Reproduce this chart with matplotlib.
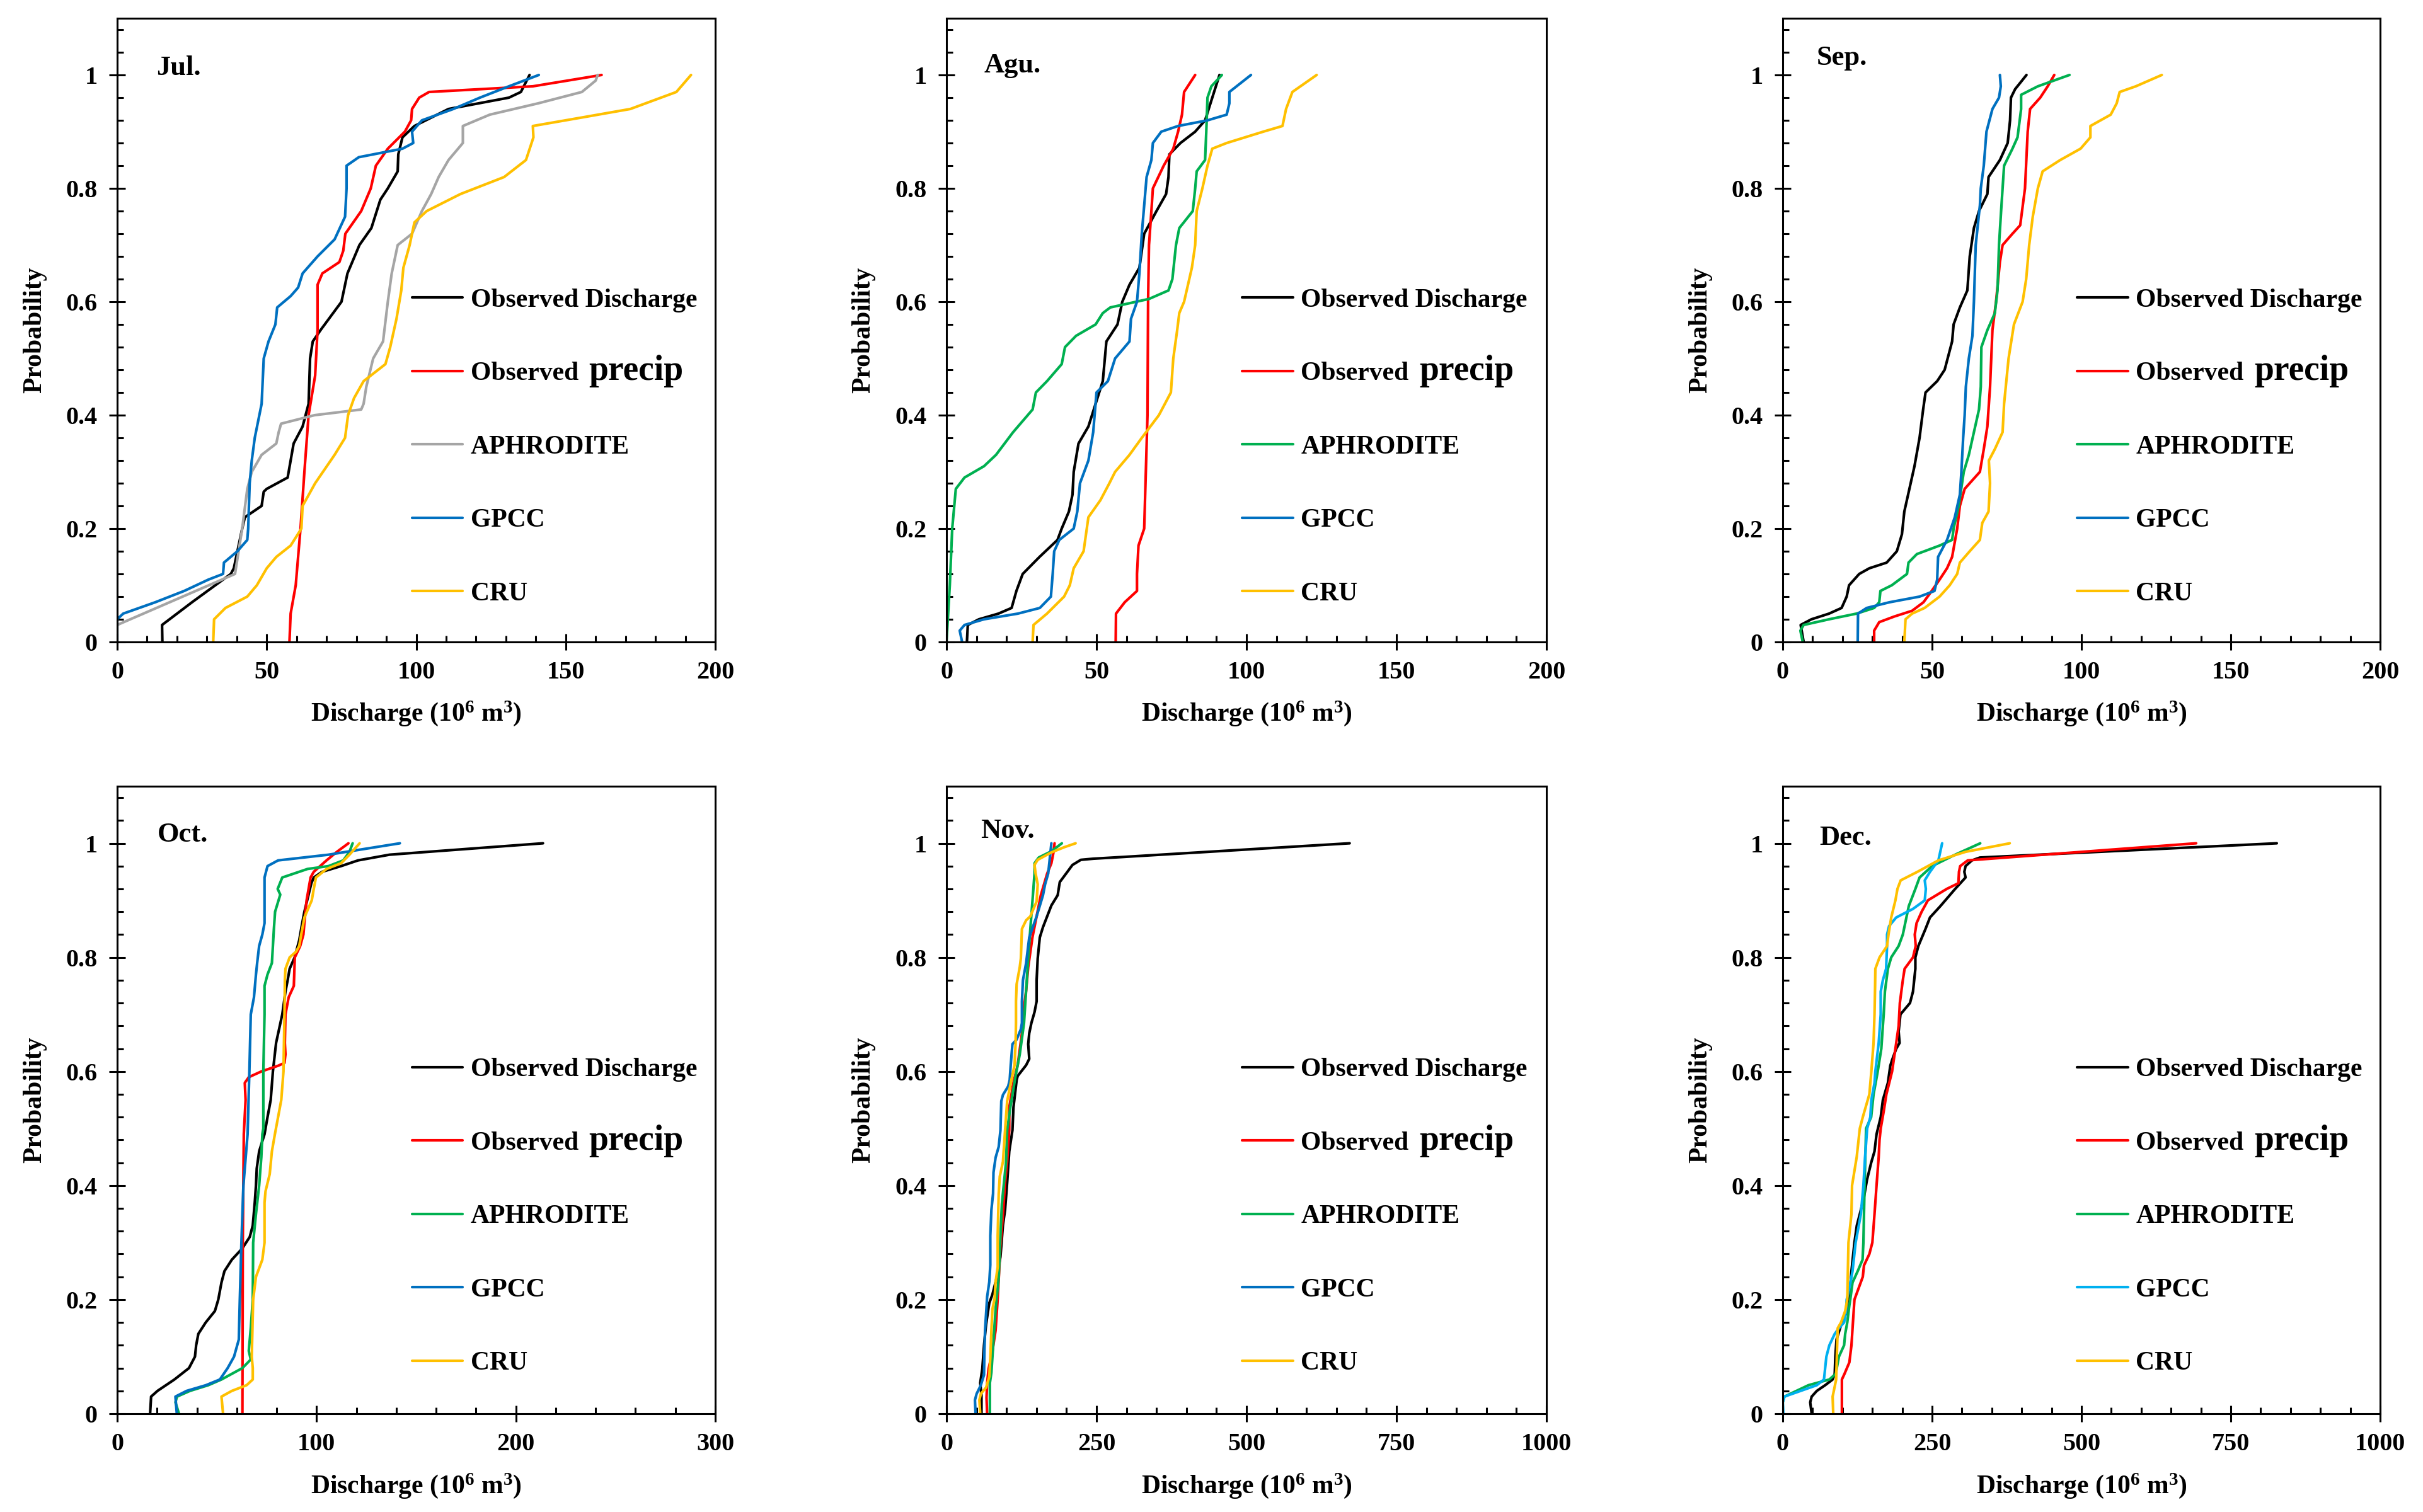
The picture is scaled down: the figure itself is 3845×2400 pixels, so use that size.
import matplotlib

matplotlib.use("Agg")
import matplotlib.pyplot as plt
import numpy as np
from matplotlib.ticker import FuncFormatter, MultipleLocator

plt.rcParams["font.family"] = ["Liberation Serif", "DejaVu Serif"]
plt.rcParams["font.weight"] = "bold"
plt.rcParams["mathtext.default"] = "regular"

# ---- data: (discharge in 10^6 m3, cumulative probability) ----
jul_obs = [(15.1, 0), (15, 0.03), (25, 0.07), (38, 0.12), (39, 0.13), (41.8, 0.2), (42.7, 0.22),
           (48.3, 0.24), (49, 0.265), (50, 0.27), (57, 0.29), (59, 0.35), (62, 0.38), (64, 0.42),
           (64.5, 0.5), (65.4, 0.53), (68, 0.55), (75, 0.6), (77, 0.65), (81, 0.7), (85, 0.73),
           (88, 0.78), (90.5, 0.8), (93.8, 0.83), (94, 0.86), (95.4, 0.89), (99.4, 0.91),
           (110.8, 0.94), (131, 0.96), (135, 0.97), (137.9, 1.0)]
jul_pre = [(57.6, 0), (58, 0.05), (59.7, 0.1), (61.3, 0.2), (62.6, 0.3), (64, 0.4), (66.2, 0.47),
           (67, 0.55), (67, 0.63), (68.6, 0.65), (74.3, 0.67), (75.6, 0.69), (76.3, 0.72),
           (81.6, 0.76), (84.8, 0.8), (86.5, 0.84), (90.5, 0.87), (96.2, 0.9), (98.3, 0.92),
           (98.6, 0.94), (101, 0.96), (104.3, 0.97), (139, 0.98), (162, 1.0)]
jul_aph = [(0, 0.03), (39.4, 0.12), (41.8, 0.2), (43.5, 0.27), (45, 0.3), (48.3, 0.33),
           (53.2, 0.35), (54, 0.37), (54.8, 0.385), (66, 0.4), (81.6, 0.41), (82.4, 0.42),
           (83.3, 0.45), (85.6, 0.5), (88.9, 0.53), (90.5, 0.6), (91.8, 0.65), (93.8, 0.7),
           (98.6, 0.72), (101.9, 0.76), (105, 0.79), (107.5, 0.82), (110.8, 0.85), (115.6, 0.88),
           (115.6, 0.91), (124.6, 0.93), (140.8, 0.95), (155.4, 0.97), (160, 0.99), (160.7, 1.0)]
jul_gpc = [(0, 0), (0, 0.04), (2, 0.05), (12.7, 0.07), (22.4, 0.09), (30.5, 0.11), (35.4, 0.12),
           (35.7, 0.14), (40.2, 0.16), (43.5, 0.18), (43.8, 0.2), (44.3, 0.28), (45, 0.32),
           (46, 0.36), (48.3, 0.42), (49, 0.5), (50.6, 0.53), (52.9, 0.56), (53.5, 0.59),
           (58, 0.61), (60.5, 0.625), (62, 0.65), (67, 0.68), (72.7, 0.71), (76.2, 0.75),
           (76.7, 0.8), (76.7, 0.84), (80.8, 0.855), (95.4, 0.87), (99, 0.88), (98.6, 0.9),
           (101.9, 0.92), (112.4, 0.94), (121.3, 0.96), (131, 0.98), (141, 1.0)]
jul_cru = [(32.1, 0), (32.4, 0.04), (36.2, 0.06), (43.5, 0.08), (46.7, 0.1), (50, 0.13),
           (53.2, 0.15), (58, 0.17), (61.6, 0.2), (62, 0.24), (66.2, 0.28), (72.7, 0.33),
           (76.2, 0.36), (77.2, 0.4), (79.2, 0.43), (82.4, 0.46), (89.7, 0.49), (91.3, 0.52),
           (93.4, 0.57), (95, 0.62), (95.7, 0.66), (97.8, 0.7), (99.4, 0.74), (103.5, 0.76),
           (114.8, 0.79), (129.4, 0.82), (136.7, 0.85), (139.2, 0.89), (139, 0.91),
           (155.4, 0.925), (171.6, 0.94), (187, 0.97), (191.9, 1.0)]

agu_obs = [(6.8, 0), (7.1, 0.03), (10.8, 0.04), (17.3, 0.05), (21.7, 0.06), (23.3, 0.09),
           (25.4, 0.12), (31, 0.15), (37, 0.18), (38.4, 0.2), (40.8, 0.23), (42, 0.26),
           (42.4, 0.3), (44, 0.35), (47.3, 0.38), (49.7, 0.42), (52.1, 0.46), (53.3, 0.53),
           (57, 0.56), (58.6, 0.6), (61, 0.63), (64.3, 0.66), (65.9, 0.72), (70, 0.76),
           (73.2, 0.79), (74, 0.82), (74.3, 0.86), (78, 0.88), (82.9, 0.9), (86.2, 0.92),
           (88.6, 0.96), (91, 1.0)]
agu_pre = [(56.4, 0), (56.5, 0.05), (59.4, 0.07), (63.5, 0.09), (63.5, 0.12), (64, 0.17),
           (65.9, 0.2), (67, 0.4), (67.2, 0.6), (67.5, 0.7), (68.3, 0.76), (68.8, 0.8),
           (72.4, 0.84), (75.6, 0.87), (77.2, 0.9), (78.5, 0.93), (79.2, 0.97), (82.9, 1.0)]
agu_aph = [(0, 0), (1.1, 0.1), (1.9, 0.2), (3.1, 0.27), (6, 0.29), (12.5, 0.31), (16.5, 0.33),
           (22.2, 0.37), (28.7, 0.41), (29.8, 0.44), (33.5, 0.46), (38.4, 0.49), (39.5, 0.52),
           (43.2, 0.54), (49.7, 0.56), (52.1, 0.58), (54.6, 0.59), (67.5, 0.605), (74, 0.62),
           (75.3, 0.64), (76.5, 0.7), (77.6, 0.73), (82.1, 0.76), (82.9, 0.8), (83.4, 0.83),
           (86.2, 0.85), (86.6, 0.9), (87, 0.96), (88.3, 0.98), (91.8, 1.0)]
agu_gpc = [(5.2, 0), (4.4, 0.02), (6, 0.03), (12.5, 0.04), (23.8, 0.05), (31.1, 0.06),
           (34.8, 0.08), (35.4, 0.12), (35.9, 0.16), (37.6, 0.18), (42.4, 0.2), (43.6, 0.23),
           (44.5, 0.28), (47.3, 0.32), (48.9, 0.37), (50, 0.44), (53.8, 0.46), (56.2, 0.5),
           (61, 0.53), (61.5, 0.57), (63.5, 0.6), (64.3, 0.65), (65.1, 0.72), (66.7, 0.82),
           (68.3, 0.85), (68.8, 0.88), (71.6, 0.9), (77.2, 0.91), (87, 0.92), (93.4, 0.93),
           (94.3, 0.95), (94.3, 0.97), (101.5, 1.0)]
agu_cru = [(28.7, 0), (29, 0.03), (33.5, 0.05), (39.2, 0.08), (41.1, 0.1), (42.4, 0.13),
           (45.7, 0.16), (46.5, 0.19), (47.3, 0.22), (51.3, 0.25), (54.3, 0.28), (56.2, 0.3),
           (61, 0.33), (65.1, 0.36), (70.8, 0.4), (74.8, 0.44), (75.6, 0.5), (76.9, 0.55),
           (77.6, 0.58), (79.2, 0.6), (80.5, 0.63), (81.8, 0.66), (82.9, 0.7), (83.4, 0.76),
           (85.3, 0.8), (87, 0.84), (88.6, 0.87), (93.4, 0.88), (105.6, 0.9), (112, 0.91),
           (113.2, 0.94), (115.3, 0.97), (123.4, 1.0)]

sep_obs = [(7, 0), (6, 0.03), (9.6, 0.04), (15.5, 0.05), (19.7, 0.06), (21.4, 0.08), (22.2, 0.1),
           (25.6, 0.12), (29, 0.13), (34.8, 0.14), (38.2, 0.16), (39.9, 0.19), (40.7, 0.23),
           (42.4, 0.27), (44.1, 0.31), (45.8, 0.36), (47, 0.41), (47.8, 0.44), (51.7, 0.46),
           (54.2, 0.48), (56.7, 0.53), (57.2, 0.56), (59.3, 0.59), (61.8, 0.62), (62.6, 0.68),
           (64, 0.73), (65.7, 0.76), (68.5, 0.79), (68.9, 0.82), (72.7, 0.85), (75.3, 0.88),
           (76.1, 0.92), (76.4, 0.96), (77.8, 0.975), (81.6, 1.0)]
sep_pre = [(30.6, 0), (30.6, 0.02), (32.3, 0.035), (37.4, 0.045), (43.3, 0.055), (47.1, 0.07),
           (49.2, 0.085), (52.5, 0.11), (55, 0.13), (56.7, 0.15), (58.4, 0.2), (59.3, 0.24),
           (60.9, 0.27), (66, 0.3), (67.3, 0.34), (68.5, 0.38), (69.4, 0.45), (70.2, 0.55),
           (71.4, 0.6), (72.7, 0.67), (73.6, 0.7), (76.9, 0.72), (79.5, 0.735), (81.1, 0.8),
           (82, 0.9), (82.8, 0.94), (86.2, 0.96), (88.7, 0.98), (90.9, 1.0)]
sep_aph = [(6.7, 0), (5.9, 0.02), (7, 0.03), (15.5, 0.04), (24.7, 0.05), (30.6, 0.06),
           (32.3, 0.07), (32.7, 0.09), (36.5, 0.1), (41.6, 0.12), (42.1, 0.14), (44.9, 0.155),
           (52.5, 0.17), (56.7, 0.18), (57.2, 0.2), (58.9, 0.24), (60.6, 0.3), (62.3, 0.33),
           (64, 0.37), (65.7, 0.41), (66.3, 0.45), (66.5, 0.52), (68.5, 0.55), (71, 0.58),
           (71.9, 0.62), (72.4, 0.7), (73.1, 0.76), (74.1, 0.84), (76.9, 0.87), (78.6, 0.89),
           (79.8, 0.94), (79.8, 0.965), (85.4, 0.98), (96, 1.0)]
sep_gpc = [(25.1, 0), (25.2, 0.05), (28.1, 0.06), (35.7, 0.07), (45.8, 0.08), (50.8, 0.09),
           (51.7, 0.11), (52, 0.15), (55, 0.18), (57.6, 0.22), (59.3, 0.26), (59.8, 0.3),
           (60.4, 0.36), (60.9, 0.4), (61.3, 0.45), (62.3, 0.5), (63.5, 0.54), (64, 0.6),
           (64.6, 0.7), (66, 0.77), (66.3, 0.8), (67.3, 0.84), (68.2, 0.9), (70.2, 0.94),
           (72.4, 0.96), (73, 0.98), (72.7, 1.0)]
sep_cru = [(40.7, 0), (41.1, 0.04), (43.3, 0.05), (47.5, 0.06), (52.5, 0.08), (55.9, 0.1),
           (58.4, 0.12), (59.3, 0.14), (62.6, 0.16), (66, 0.18), (66.8, 0.21), (68.9, 0.23),
           (69.4, 0.28), (69, 0.32), (71, 0.34), (73.6, 0.37), (74.1, 0.42), (75.6, 0.5),
           (77.4, 0.56), (80.3, 0.6), (81.5, 0.64), (82.5, 0.7), (83.7, 0.75), (85.4, 0.8),
           (87, 0.83), (92.9, 0.85), (99.7, 0.87), (103, 0.89), (103, 0.91), (109.8, 0.93),
           (111.8, 0.95), (112.8, 0.97), (118.2, 0.98), (126.9, 1.0)]

oct_obs = [(16.5, 0), (17, 0.03), (20.2, 0.04), (28.7, 0.06), (36, 0.08), (39, 0.1), (39.6, 0.12),
           (40.7, 0.14), (44.4, 0.16), (49, 0.18), (50.7, 0.2), (52.3, 0.23), (53.8, 0.25),
           (57.5, 0.27), (62.8, 0.29), (66.5, 0.31), (68, 0.33), (69, 0.37), (69.6, 0.4),
           (70, 0.43), (71.2, 0.46), (73.9, 0.49), (75.4, 0.52), (77, 0.55), (78.1, 0.6),
           (79.7, 0.65), (82.8, 0.7), (84.4, 0.74), (85.5, 0.76), (86.5, 0.78), (89, 0.8),
           (91.3, 0.83), (92.8, 0.86), (93.9, 0.88), (96, 0.91), (97.4, 0.93), (98.6, 0.94),
           (102.8, 0.95), (112.3, 0.96), (120.8, 0.97), (136.6, 0.98), (213.6, 1.0)]
oct_pre = [(62.8, 0), (63, 0.3), (63.5, 0.49), (64.4, 0.55), (64, 0.58), (66, 0.59), (72.3, 0.6),
           (80.7, 0.61), (83.9, 0.615), (84.4, 0.63), (84.1, 0.65), (84.4, 0.7), (86, 0.73),
           (88.6, 0.75), (89.1, 0.8), (91.8, 0.82), (93.4, 0.84), (93.9, 0.86), (95, 0.9),
           (96.5, 0.93), (97, 0.94), (98.6, 0.95), (105, 0.97), (110.2, 0.985), (116, 1.0)]
oct_aph = [(31, 0), (29.2, 0.02), (30, 0.03), (36.5, 0.04), (45.7, 0.05), (52.3, 0.06),
           (62.8, 0.08), (67, 0.095), (66, 0.11), (67, 0.15), (68, 0.2), (68.2, 0.3),
           (69.6, 0.35), (71.2, 0.4), (72.3, 0.45), (72.8, 0.49), (73.3, 0.5), (73.3, 0.6),
           (73.9, 0.7), (73.9, 0.75), (75.4, 0.77), (77.6, 0.79), (78.1, 0.82), (78.6, 0.85),
           (79.2, 0.88), (81.8, 0.91), (80.5, 0.92), (82.8, 0.94), (95.5, 0.955), (106, 0.96),
           (113.4, 0.97), (116.5, 0.985), (118.1, 1.0)]
oct_gpc = [(29.9, 0), (29.2, 0.03), (34.8, 0.04), (44.5, 0.05), (51.5, 0.06), (55.4, 0.08),
           (58.6, 0.1), (61, 0.13), (61.5, 0.2), (62.3, 0.3), (63.3, 0.4), (65.4, 0.49),
           (66.3, 0.6), (67, 0.7), (68.6, 0.73), (69.6, 0.77), (70.2, 0.79), (71.2, 0.82),
           (72.8, 0.84), (73.9, 0.86), (73.9, 0.94), (75.4, 0.96), (80.7, 0.97), (106, 0.98),
           (141.8, 1.0)]
oct_cru = [(53.1, 0), (52.3, 0.03), (57.5, 0.04), (64.9, 0.05), (68, 0.06), (68, 0.08),
           (67.5, 0.1), (68.2, 0.2), (69.6, 0.24), (72.8, 0.27), (73.9, 0.3), (73.9, 0.37),
           (74.4, 0.39), (76.5, 0.42), (77.6, 0.46), (79.1, 0.49), (82.3, 0.55), (83.4, 0.6),
           (83.9, 0.7), (84.1, 0.76), (84.4, 0.78), (86.5, 0.8), (89.7, 0.81), (91.3, 0.82),
           (92.3, 0.84), (93.9, 0.87), (97.6, 0.9), (98.6, 0.92), (99.7, 0.94), (105, 0.955),
           (112.3, 0.965), (116.5, 0.98), (121.6, 1.0)]

nov_obs = [(58.3, 0), (58.3, 0.031), (56.2, 0.054), (59.7, 0.079), (62.5, 0.12), (66, 0.157),
           (71.3, 0.194), (76.5, 0.209), (83.5, 0.238), (89.9, 0.275), (94.1, 0.331),
           (97.6, 0.357), (101.1, 0.405), (104.6, 0.46), (109.9, 0.497), (111.6, 0.537),
           (116.9, 0.585), (118.6, 0.592), (132.7, 0.611), (137.9, 0.622), (136.2, 0.648),
           (137.9, 0.667), (141.5, 0.685), (146.7, 0.704), (150.2, 0.723), (150.2, 0.76),
           (152, 0.798), (153.7, 0.816), (155.5, 0.835), (160.8, 0.853), (167.8, 0.872),
           (174.8, 0.891), (185.3, 0.909), (188.8, 0.932), (199.4, 0.947), (209.9, 0.962),
           (223.9, 0.971), (245, 0.973), (294, 0.976), (672, 1.0)]
nov_pre = [(67.7, 0), (66.7, 0.028), (67.7, 0.054), (70.2, 0.079), (76.5, 0.109), (81.8, 0.146),
           (85.3, 0.201), (89.9, 0.294), (94.1, 0.349), (97.6, 0.405), (101.1, 0.442),
           (104.6, 0.497), (104.6, 0.537), (111.6, 0.581), (118.6, 0.611), (125.7, 0.667),
           (129.2, 0.712), (132.7, 0.742), (136.2, 0.783), (143.2, 0.835), (150.2, 0.872),
           (157.2, 0.909), (167.8, 0.947), (174.8, 0.965), (178.3, 0.984), (180.1, 1.0)]
nov_aph = [(72.3, 0), (72.3, 0.054), (74.8, 0.072), (78.3, 0.128), (81.8, 0.183), (87, 0.238),
           (89.9, 0.312), (92.3, 0.368), (95.8, 0.405), (99.3, 0.442), (101.1, 0.497),
           (106.4, 0.537), (115.1, 0.592), (122.1, 0.63), (129.2, 0.685), (132.7, 0.742),
           (136.2, 0.798), (139.7, 0.85), (143.2, 0.898), (146.7, 0.947), (146.7, 0.965),
           (153.7, 0.975), (174.8, 0.986), (192.3, 1.0)]
nov_gpc = [(48.4, 0), (47.4, 0.024), (50.2, 0.035), (57.2, 0.05), (62.5, 0.068), (63.2, 0.109),
           (64.2, 0.146), (66, 0.176), (67.7, 0.205), (71.3, 0.231), (73, 0.261), (73, 0.312),
           (74.8, 0.357), (77.6, 0.386), (78.3, 0.423), (81.8, 0.449), (87, 0.468),
           (89.9, 0.497), (91.3, 0.548), (94.1, 0.559), (102.8, 0.574), (105.3, 0.585),
           (107, 0.611), (109.9, 0.648), (116.9, 0.656), (123.9, 0.674), (125.7, 0.685),
           (125.7, 0.723), (127.4, 0.76), (132.7, 0.79), (137.9, 0.835), (150.2, 0.872),
           (160.8, 0.909), (164.3, 0.928), (169.5, 0.947), (171.3, 0.965), (174.8, 1.0)]
nov_cru = [(56.2, 0), (54.8, 0.024), (57.2, 0.035), (66, 0.046), (71.3, 0.065), (73, 0.098),
           (74.8, 0.146), (76.5, 0.183), (80, 0.201), (81.8, 0.231), (85.3, 0.257),
           (85.3, 0.312), (87, 0.386), (88.8, 0.416), (94.1, 0.442), (97.6, 0.497),
           (101.1, 0.548), (108.1, 0.585), (113.4, 0.611), (115.1, 0.648), (115.8, 0.685),
           (115.8, 0.723), (116.9, 0.753), (122.1, 0.783), (123.9, 0.798), (125.7, 0.85),
           (132.7, 0.865), (139.7, 0.872), (150.2, 0.898), (152, 0.928), (148.5, 0.947),
           (146.7, 0.962), (152, 0.971), (174.8, 0.984), (195.9, 0.993), (215.2, 1.0)]

dec_obs = [(48.4, 0), (46, 0.02), (48.4, 0.03), (57, 0.04), (71, 0.05), (83.5, 0.06), (87, 0.07),
           (88, 0.1), (90, 0.13), (99, 0.16), (108, 0.18), (111.5, 0.2), (115, 0.25), (120, 0.3),
           (124, 0.33), (129, 0.35), (136, 0.38), (141, 0.41), (148, 0.44), (153.6, 0.46),
           (157, 0.49), (164, 0.52), (167.6, 0.55), (176, 0.58), (180, 0.61), (183, 0.62),
           (190, 0.64), (195.6, 0.65), (194, 0.67), (197, 0.7), (213, 0.72), (218, 0.74),
           (222, 0.78), (222, 0.8), (227, 0.82), (239, 0.85), (246.5, 0.87), (264, 0.89),
           (288.6, 0.92), (306, 0.94), (304, 0.95), (306, 0.96), (316.6, 0.97), (330, 0.975),
           (827, 1.0)]
dec_pre = [(99, 0), (99, 0.06), (103.4, 0.07), (111.5, 0.09), (115, 0.12), (117.5, 0.16),
           (120, 0.2), (127, 0.22), (134, 0.24), (136, 0.26), (145, 0.28), (150, 0.3),
           (153.6, 0.35), (157, 0.4), (160.6, 0.45), (162, 0.48), (164, 0.5), (169, 0.53),
           (173.5, 0.56), (183, 0.6), (188.6, 0.64), (194, 0.68), (196, 0.72), (201, 0.76),
           (204, 0.78), (218, 0.8), (222.6, 0.82), (221, 0.84), (224, 0.86), (232.5, 0.88),
           (243, 0.9), (274.5, 0.92), (294, 0.93), (295, 0.95), (297, 0.96), (309.6, 0.97),
           (692, 1.0)]
dec_aph = [(0, 0), (0, 0.02), (2.8, 0.03), (43, 0.05), (78, 0.06), (88.7, 0.07), (94, 0.1),
           (102.7, 0.12), (104.5, 0.14), (108, 0.16), (111.5, 0.19), (113, 0.2), (116.8, 0.23),
           (125.5, 0.25), (133.6, 0.27), (135, 0.3), (137, 0.4), (139.5, 0.5), (148, 0.52),
           (152, 0.56), (159, 0.6), (165, 0.64), (167.6, 0.68), (169, 0.7), (171, 0.74),
           (176, 0.78), (181.6, 0.8), (194, 0.82), (201, 0.84), (205, 0.86), (211, 0.89),
           (222, 0.92), (229, 0.94), (250, 0.96), (288.6, 0.98), (330.6, 1.0)]
dec_gpc = [(1, 0), (0, 0.02), (2.8, 0.03), (57, 0.05), (69, 0.06), (71, 0.08), (73, 0.1),
           (78, 0.12), (87, 0.14), (94, 0.15), (102.7, 0.16), (106, 0.18), (107, 0.2),
           (111.5, 0.22), (116.8, 0.25), (122, 0.3), (130.8, 0.35), (135, 0.4), (137.8, 0.45),
           (141.3, 0.5), (146.6, 0.52), (148.3, 0.55), (153.6, 0.58), (155, 0.6), (160.6, 0.65),
           (164, 0.7), (164, 0.74), (167.6, 0.76), (173, 0.78), (174.6, 0.82), (174.6, 0.84),
           (178, 0.855), (190, 0.87), (218, 0.885), (237.7, 0.9), (239.5, 0.92), (237.7, 0.935),
           (246.5, 0.95), (260.5, 0.97), (266.8, 1.0)]
dec_cru = [(84.5, 0), (83.5, 0.03), (89.4, 0.06), (90.5, 0.1), (92, 0.15), (97.5, 0.16),
           (104.5, 0.18), (108, 0.2), (110, 0.3), (115, 0.35), (116, 0.4), (123.8, 0.45),
           (129, 0.5), (134, 0.52), (145, 0.56), (148.3, 0.6), (152, 0.65), (153.6, 0.7),
           (154.6, 0.75), (155, 0.78), (162, 0.8), (174.6, 0.82), (177, 0.84), (181.6, 0.87),
           (188.6, 0.9), (192, 0.92), (197.4, 0.935), (225.5, 0.95), (260.5, 0.97), (306, 0.985),
           (380, 1.0)]

series_labels = ["Observed Discharge", "Observed", "APHRODITE", "GPCC", "CRU"]
months = ["Jul.", "Agu.", "Sep.", "Oct.", "Nov.", "Dec."]
x_limits = [200, 200, 200, 300, 1000, 1000]
x_major = [50, 50, 50, 100, 250, 250]
x_minor = [10, 10, 10, 20, 50, 50]
month_data = [
    [jul_obs, jul_pre, jul_aph, jul_gpc, jul_cru],
    [agu_obs, agu_pre, agu_aph, agu_gpc, agu_cru],
    [sep_obs, sep_pre, sep_aph, sep_gpc, sep_cru],
    [oct_obs, oct_pre, oct_aph, oct_gpc, oct_cru],
    [nov_obs, nov_pre, nov_aph, nov_gpc, nov_cru],
    [dec_obs, dec_pre, dec_aph, dec_gpc, dec_cru],
]

BLACK, RED, GRAY, GREEN, BLUE, SKY, GOLD = (
    "#000000", "#FF0000", "#A5A5A5", "#00B050", "#0070C0", "#00B0F0", "#FFC000")
month_colors = [
    [BLACK, RED, GRAY, BLUE, GOLD],
    [BLACK, RED, GREEN, BLUE, GOLD],
    [BLACK, RED, GREEN, BLUE, GOLD],
    [BLACK, RED, GREEN, BLUE, GOLD],
    [BLACK, RED, GREEN, BLUE, GOLD],
    [BLACK, RED, GREEN, SKY, GOLD],
]

# axes rectangles in pixels of the 3845x2400 canvas
W, H = 3845, 2400
col_px = [(186, 949), (1502, 952), (2829, 948)]
row_px = [(29, 990), (1248, 996)]
title_pos = [(0.065, 0.92), (0.063, 0.924), (0.057, 0.936),
             (0.067, 0.923), (0.057, 0.929), (0.061, 0.918)]


def prob_fmt(v, _pos):
    return f"{v:g}"


fig = plt.figure(figsize=(W / 200, H / 200), dpi=200)

for i, month in enumerate(months):
    r, c = divmod(i, 3)
    left, width = col_px[c]
    top, height = row_px[r]
    ax = fig.add_axes([left / W, 1 - (top + height) / H, width / W, height / H])

    handles = []
    for pairs, color in zip(month_data[i], month_colors[i]):
        arr = np.array(pairs, dtype=float)
        (line,) = ax.plot(arr[:, 0], arr[:, 1], color=color, lw=1.5,
                          solid_capstyle="round", solid_joinstyle="round")
        handles.append(line)

    ax.set_xlim(0, x_limits[i])
    ax.set_ylim(0, 1.1)
    ax.xaxis.set_major_locator(MultipleLocator(x_major[i]))
    ax.xaxis.set_minor_locator(MultipleLocator(x_minor[i]))
    ax.yaxis.set_major_locator(MultipleLocator(0.2))
    ax.yaxis.set_minor_locator(MultipleLocator(0.04))
    ax.yaxis.set_major_formatter(FuncFormatter(prob_fmt))
    ax.tick_params(which="major", direction="inout", length=9.4, width=1.1, labelsize=14.5)
    ax.tick_params(axis="y", which="major", pad=6.5)
    ax.tick_params(axis="x", which="major", pad=6)
    ax.tick_params(which="minor", direction="in", length=3.6, width=1.1)
    for spine in ax.spines.values():
        spine.set_linewidth(1.1)

    ax.set_xlabel("Discharge (10$^{6}$ m$^{3}$)", fontsize=15, fontweight="bold")
    ax.set_ylabel("Probability", fontsize=15, fontweight="bold")
    ax.xaxis.set_label_coords(0.5, -0.092)
    ax.yaxis.set_label_coords(-0.118, 0.5)

    tx, ty = title_pos[i]
    ax.text(tx, ty, month, transform=ax.transAxes, fontsize=16, fontweight="bold", va="center")

    leg = ax.legend(handles, series_labels, loc="upper left", bbox_to_anchor=(0.493, 0.567),
                    frameon=False, fontsize=15, handlelength=1.93, handletextpad=0.3,
                    labelspacing=1.88, borderpad=0, borderaxespad=0)
    for t in leg.get_texts():
        t.set_fontweight("bold")
    ax.annotate("precip", xy=(1, 0), xycoords=leg.get_texts()[1], xytext=(6, 3.3),
                textcoords="offset points", va="baseline", ha="left", fontsize=20,
                fontweight="bold", zorder=10)

fig.savefig("out.png", dpi=200)
